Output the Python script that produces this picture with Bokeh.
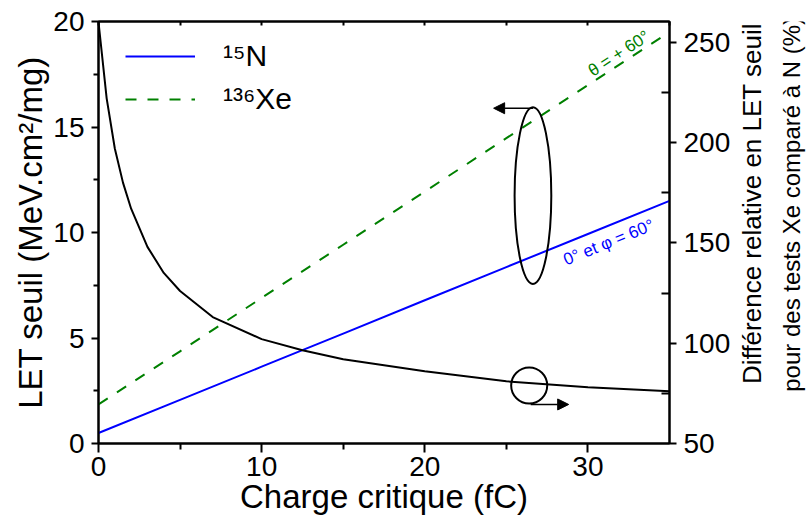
from bokeh.plotting import figure
from bokeh.layouts import row
from bokeh.models import (Range1d, LinearAxis, FixedTicker, Label, Arrow, NormalHead,
                          Legend, LegendItem)
from bokeh.embed import file_html
from bokeh.resources import INLINE

# ---------------- data ----------------
charge_lines = [0, 5, 10, 15, 20, 25, 30, 35]                 # fC
let_N = [0.5, 2.07, 3.64, 5.21, 6.79, 8.36, 9.93, 11.5]        # 15N, MeV.cm2/mg
let_Xe = [1.85, 4.37, 6.90, 9.42, 11.94, 14.47, 16.99, 19.5]   # 136Xe, MeV.cm2/mg

charge_diff = [0, 0.5, 1, 1.5, 2, 3, 4, 5, 7, 10, 12.5, 15, 20, 25, 30, 35]
diff_pct = [260, 222, 197, 180, 167, 148, 135, 126, 113, 102, 96.5, 92, 86, 81, 78, 76]

x_ticks = [0, 10, 20, 30]
x_minor = [5, 15, 25]
top_ticks = [0, 5, 10, 15, 20, 25, 30, 35]
y_ticks = [0, 5, 10, 15, 20]
y_minor = [2.5, 7.5, 12.5, 17.5]
r_ticks = [50, 100, 150, 200, 250]
r_minor = [75, 125, 175, 225]

x_title = "Charge critique (fC)"
y_title = "LET seuil (MeV.cm²/mg)"
r_titles = ["Différence relative en LET seuil", "pour des tests Xe comparé à N (%)"]
lab_N = "¹⁵N"
lab_Xe = "¹³⁶Xe"
note_Xe = "θ = + 60°"
note_N = "0° et φ = 60°"

FONT = "Liberation Sans"
BLUE = "#0000ff"
GREEN = "#008000"
TICK_FS = "28px"
TITLE_FS = "33px"

MAIN_W, SIDE_W, H = 735, 75, 524

p = figure(width=MAIN_W, height=H, x_range=Range1d(0, 35), y_range=Range1d(0, 20),
           output_backend="svg", toolbar_location=None,
           min_border_left=98, min_border_right=MAIN_W - 669, min_border_top=21,
           min_border_bottom=81)
p.extra_y_ranges = {"diff": Range1d(50, 260.3)}

p.xgrid.grid_line_color = None
p.ygrid.grid_line_color = None
p.outline_line_color = "black"
p.outline_line_width = 2
p.background_fill_color = "white"
p.border_fill_color = "white"

def style(ax):
    ax.axis_line_width = 2
    ax.major_tick_line_width = 2
    ax.minor_tick_line_width = 2
    ax.major_label_text_font = FONT
    ax.major_label_text_font_size = TICK_FS
    ax.major_label_text_color = "black"
    ax.axis_label_text_font = FONT
    ax.axis_label_text_font_size = TITLE_FS
    ax.axis_label_text_font_style = "normal"
    ax.axis_label_text_color = "black"

# bottom axis
xa = p.xaxis[0]
xa.ticker = FixedTicker(ticks=x_ticks, minor_ticks=x_minor)
style(xa)
xa.major_tick_out = 9
xa.major_tick_in = 0
xa.minor_tick_out = 6
xa.minor_tick_in = 0
xa.major_label_standoff = 4
xa.axis_label = x_title
xa.axis_label_standoff = -1

# left axis
ya = p.yaxis[0]
ya.ticker = FixedTicker(ticks=y_ticks, minor_ticks=y_minor)
style(ya)
ya.major_tick_out = 7
ya.major_tick_in = 0
ya.minor_tick_out = 5
ya.minor_tick_in = 0
ya.major_label_standoff = 7
ya.axis_label = y_title
ya.axis_label_standoff = 1

# right axis (ticks)
ra = LinearAxis(y_range_name="diff", ticker=FixedTicker(ticks=r_ticks, minor_ticks=r_minor))
style(ra)
ra.major_tick_out = 7
ra.major_tick_in = 0
ra.minor_tick_out = 0
ra.minor_tick_in = 8
ra.major_label_standoff = 7
p.add_layout(ra, "right")

# top axis (ticks only)
ta = LinearAxis(ticker=FixedTicker(ticks=top_ticks, minor_ticks=[]))
style(ta)
ta.major_tick_out = 0
ta.major_tick_in = 4
ta.major_label_overrides = {t: "" for t in top_ticks}
ta.major_label_standoff = 0
p.add_layout(ta, "above")

# curves
rN = p.line(charge_lines, let_N, line_color=BLUE, line_width=2)
rX = p.line(charge_lines, let_Xe, line_color=GREEN, line_width=2, line_dash="11 11")
p.line(charge_diff, diff_pct, line_color="black", line_width=2, y_range_name="diff")

# legend
leg = Legend(items=[LegendItem(label=lab_N, renderers=[rN]),
                    LegendItem(label=lab_Xe, renderers=[rX])],
             location=(27, 327))
leg.border_line_color = None
leg.background_fill_alpha = 0
leg.padding = 0
leg.margin = 0
leg.spacing = 9
leg.glyph_width = 70
leg.label_height = 34
leg.label_standoff = 28
leg.label_text_font = FONT
leg.label_text_font_size = "30px"
leg.label_text_color = "black"
p.add_layout(leg, "center")

# curve notes
p.add_layout(Label(x=31.9, y=18.48, text=note_Xe, angle=33.2, angle_units="deg",
                   text_align="center", text_baseline="middle",
                   text_font=FONT, text_font_size="17px", text_color=GREEN))
p.add_layout(Label(x=31.27, y=9.53, text=note_N, angle=22.1, angle_units="deg",
                   text_align="center", text_baseline="middle",
                   text_font=FONT, text_font_size="17px", text_color=BLUE))

# axis-pointer annotations
p.ellipse(x=[26.63], y=[11.75], width=2.25, height=8.37,
          fill_color=None, line_color="black", line_width=2)
p.add_layout(Arrow(end=NormalHead(size=11, fill_color="black", line_color="black"),
                   x_start=26.63, y_start=15.89, x_end=24.22, y_end=15.89,
                   line_color="black", line_width=1.5))
p.ellipse(x=[26.4], y=[2.75], width=2.21, height=1.71,
          fill_color=None, line_color="black", line_width=2)
p.add_layout(Arrow(end=NormalHead(size=11, fill_color="black", line_color="black"),
                   x_start=26.49, y_start=1.85, x_end=28.82, y_end=1.85,
                   line_color="black", line_width=1.5))

# side panel holding the two-line right-axis title (reads bottom to top)
side = figure(width=SIDE_W, height=H, x_range=Range1d(0, SIDE_W), y_range=Range1d(0, H),
              output_backend="svg", toolbar_location=None,
              x_axis_location=None, y_axis_location=None,
              min_border=0, min_border_left=0, min_border_right=0,
              min_border_top=0, min_border_bottom=0)
side.xgrid.grid_line_color = None
side.ygrid.grid_line_color = None
side.outline_line_color = None
side.background_fill_color = "white"
side.border_fill_color = "white"
for xx, yy, fs, t in [(16, 298, "26px", r_titles[0]), (56, 297, "24px", r_titles[1])]:
    side.add_layout(Label(x=xx, y=yy, text=t, angle=90, angle_units="deg",
                          text_align="center", text_baseline="middle",
                          text_font=FONT, text_font_size=fs, text_color="black"))

layout = row(p, side)
open("out.html", "w").write(file_html(layout, INLINE))
